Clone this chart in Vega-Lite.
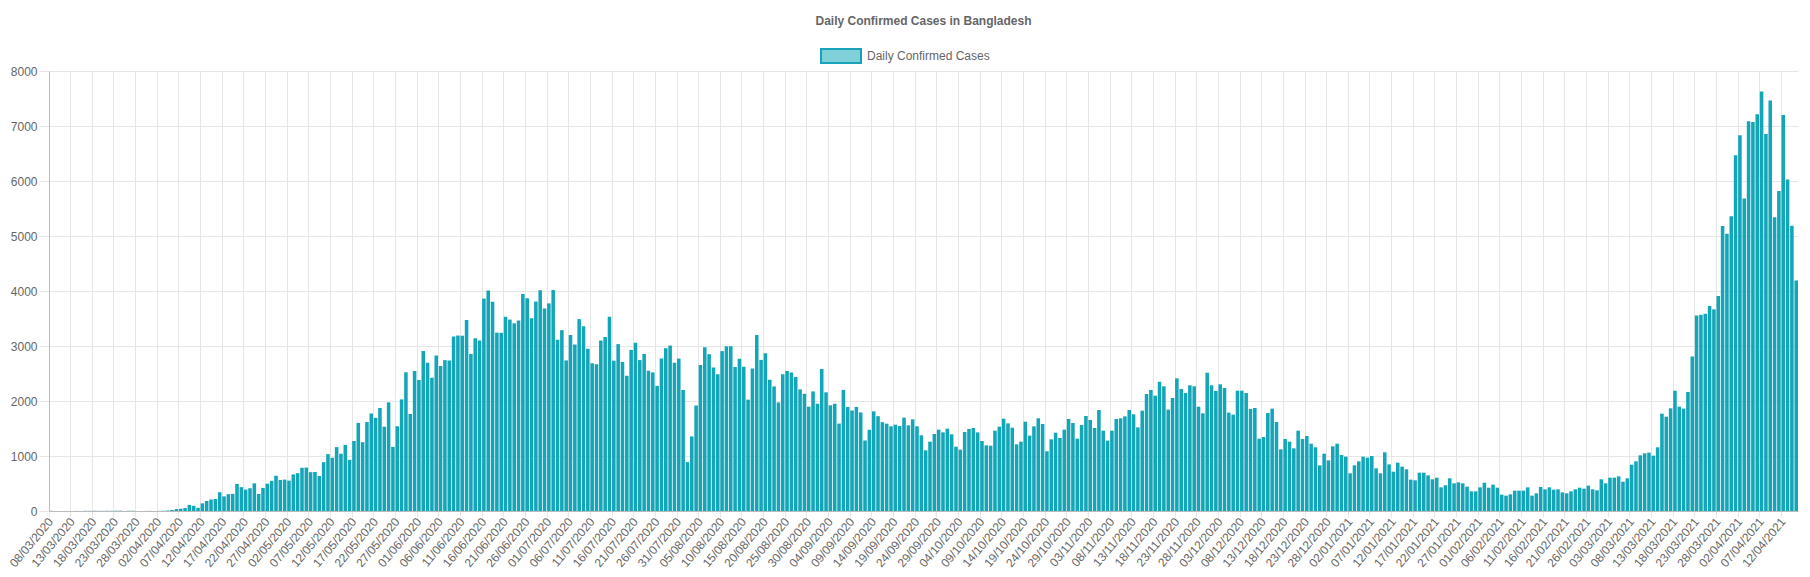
{
  "$schema": "https://vega.github.io/schema/vega-lite/v6.json",
  "width": 1749,
  "height": 440,
  "autosize": {"type": "none"},
  "padding": {"left": 49, "top": 71, "right": 12, "bottom": 66},
  "background": "white",
  "config": {"font": "Liberation Sans", "view": {"stroke": null}},
  "title": {
    "text": "Daily Confirmed Cases in Bangladesh",
    "fontSize": 12,
    "fontWeight": "bold",
    "color": "#666666",
    "font": "Liberation Sans",
    "anchor": "middle",
    "offset": 7
  },
  "data": {
    "values": [
      {"date":"08/03/2020","cases":3},{"date":"09/03/2020","cases":0},{"date":"10/03/2020","cases":0},{"date":"11/03/2020","cases":0},{"date":"12/03/2020","cases":0},{"date":"13/03/2020","cases":0},{"date":"14/03/2020","cases":2},{"date":"15/03/2020","cases":0},{"date":"16/03/2020","cases":3},{"date":"17/03/2020","cases":2},{"date":"18/03/2020","cases":4},{"date":"19/03/2020","cases":3},{"date":"20/03/2020","cases":3},{"date":"21/03/2020","cases":4},{"date":"22/03/2020","cases":3},{"date":"23/03/2020","cases":6},{"date":"24/03/2020","cases":6},{"date":"25/03/2020","cases":0},{"date":"26/03/2020","cases":5},{"date":"27/03/2020","cases":4},{"date":"28/03/2020","cases":0},{"date":"29/03/2020","cases":0},{"date":"30/03/2020","cases":1},{"date":"31/03/2020","cases":2},
      {"date":"01/04/2020","cases":2},{"date":"02/04/2020","cases":2},{"date":"03/04/2020","cases":5},{"date":"04/04/2020","cases":9},{"date":"05/04/2020","cases":18},{"date":"06/04/2020","cases":35},{"date":"07/04/2020","cases":41},{"date":"08/04/2020","cases":54},{"date":"09/04/2020","cases":112},{"date":"10/04/2020","cases":94},{"date":"11/04/2020","cases":58},{"date":"12/04/2020","cases":139},{"date":"13/04/2020","cases":182},{"date":"14/04/2020","cases":209},{"date":"15/04/2020","cases":219},{"date":"16/04/2020","cases":341},{"date":"17/04/2020","cases":266},{"date":"18/04/2020","cases":306},{"date":"19/04/2020","cases":312},{"date":"20/04/2020","cases":492},{"date":"21/04/2020","cases":434},{"date":"22/04/2020","cases":390},{"date":"23/04/2020","cases":414},{"date":"24/04/2020","cases":503},{"date":"25/04/2020","cases":309},{"date":"26/04/2020","cases":418},{"date":"27/04/2020","cases":497},{"date":"28/04/2020","cases":549},{"date":"29/04/2020","cases":641},{"date":"30/04/2020","cases":564},
      {"date":"01/05/2020","cases":571},{"date":"02/05/2020","cases":552},{"date":"03/05/2020","cases":665},{"date":"04/05/2020","cases":688},{"date":"05/05/2020","cases":786},{"date":"06/05/2020","cases":790},{"date":"07/05/2020","cases":706},{"date":"08/05/2020","cases":709},{"date":"09/05/2020","cases":636},{"date":"10/05/2020","cases":887},{"date":"11/05/2020","cases":1034},{"date":"12/05/2020","cases":969},{"date":"13/05/2020","cases":1162},{"date":"14/05/2020","cases":1041},{"date":"15/05/2020","cases":1202},{"date":"16/05/2020","cases":930},{"date":"17/05/2020","cases":1273},{"date":"18/05/2020","cases":1602},{"date":"19/05/2020","cases":1251},{"date":"20/05/2020","cases":1617},{"date":"21/05/2020","cases":1773},{"date":"22/05/2020","cases":1694},{"date":"23/05/2020","cases":1873},{"date":"24/05/2020","cases":1532},{"date":"25/05/2020","cases":1975},{"date":"26/05/2020","cases":1166},{"date":"27/05/2020","cases":1541},{"date":"28/05/2020","cases":2029},{"date":"29/05/2020","cases":2523},{"date":"30/05/2020","cases":1764},{"date":"31/05/2020","cases":2545},
      {"date":"01/06/2020","cases":2381},{"date":"02/06/2020","cases":2911},{"date":"03/06/2020","cases":2695},{"date":"04/06/2020","cases":2423},{"date":"05/06/2020","cases":2828},{"date":"06/06/2020","cases":2635},{"date":"07/06/2020","cases":2743},{"date":"08/06/2020","cases":2735},{"date":"09/06/2020","cases":3171},{"date":"10/06/2020","cases":3190},{"date":"11/06/2020","cases":3187},{"date":"12/06/2020","cases":3471},{"date":"13/06/2020","cases":2856},{"date":"14/06/2020","cases":3141},{"date":"15/06/2020","cases":3099},{"date":"16/06/2020","cases":3862},{"date":"17/06/2020","cases":4008},{"date":"18/06/2020","cases":3803},{"date":"19/06/2020","cases":3243},{"date":"20/06/2020","cases":3240},{"date":"21/06/2020","cases":3531},{"date":"22/06/2020","cases":3480},{"date":"23/06/2020","cases":3412},{"date":"24/06/2020","cases":3462},{"date":"25/06/2020","cases":3946},{"date":"26/06/2020","cases":3868},{"date":"27/06/2020","cases":3504},{"date":"28/06/2020","cases":3809},{"date":"29/06/2020","cases":4014},{"date":"30/06/2020","cases":3682},
      {"date":"01/07/2020","cases":3775},{"date":"02/07/2020","cases":4019},{"date":"03/07/2020","cases":3114},{"date":"04/07/2020","cases":3288},{"date":"05/07/2020","cases":2738},{"date":"06/07/2020","cases":3201},{"date":"07/07/2020","cases":3027},{"date":"08/07/2020","cases":3489},{"date":"09/07/2020","cases":3360},{"date":"10/07/2020","cases":2949},{"date":"11/07/2020","cases":2686},{"date":"12/07/2020","cases":2666},{"date":"13/07/2020","cases":3099},{"date":"14/07/2020","cases":3163},{"date":"15/07/2020","cases":3533},{"date":"16/07/2020","cases":2733},{"date":"17/07/2020","cases":3034},{"date":"18/07/2020","cases":2709},{"date":"19/07/2020","cases":2459},{"date":"20/07/2020","cases":2928},{"date":"21/07/2020","cases":3057},{"date":"22/07/2020","cases":2744},{"date":"23/07/2020","cases":2856},{"date":"24/07/2020","cases":2548},{"date":"25/07/2020","cases":2520},{"date":"26/07/2020","cases":2275},{"date":"27/07/2020","cases":2772},{"date":"28/07/2020","cases":2960},{"date":"29/07/2020","cases":3009},{"date":"30/07/2020","cases":2695},{"date":"31/07/2020","cases":2772},
      {"date":"01/08/2020","cases":2199},{"date":"02/08/2020","cases":889},{"date":"03/08/2020","cases":1356},{"date":"04/08/2020","cases":1918},{"date":"05/08/2020","cases":2654},{"date":"06/08/2020","cases":2977},{"date":"07/08/2020","cases":2851},{"date":"08/08/2020","cases":2611},{"date":"09/08/2020","cases":2487},{"date":"10/08/2020","cases":2907},{"date":"11/08/2020","cases":2996},{"date":"12/08/2020","cases":2995},{"date":"13/08/2020","cases":2617},{"date":"14/08/2020","cases":2766},{"date":"15/08/2020","cases":2624},{"date":"16/08/2020","cases":2024},{"date":"17/08/2020","cases":2592},{"date":"18/08/2020","cases":3200},{"date":"19/08/2020","cases":2747},{"date":"20/08/2020","cases":2868},{"date":"21/08/2020","cases":2386},{"date":"22/08/2020","cases":2265},{"date":"23/08/2020","cases":1973},{"date":"24/08/2020","cases":2485},{"date":"25/08/2020","cases":2545},{"date":"26/08/2020","cases":2519},{"date":"27/08/2020","cases":2436},{"date":"28/08/2020","cases":2211},{"date":"29/08/2020","cases":2131},{"date":"30/08/2020","cases":1897},{"date":"31/08/2020","cases":2174},
      {"date":"01/09/2020","cases":1950},{"date":"02/09/2020","cases":2582},{"date":"03/09/2020","cases":2158},{"date":"04/09/2020","cases":1921},{"date":"05/09/2020","cases":1950},{"date":"06/09/2020","cases":1590},{"date":"07/09/2020","cases":2202},{"date":"08/09/2020","cases":1892},{"date":"09/09/2020","cases":1827},{"date":"10/09/2020","cases":1892},{"date":"11/09/2020","cases":1792},{"date":"12/09/2020","cases":1282},{"date":"13/09/2020","cases":1476},{"date":"14/09/2020","cases":1812},{"date":"15/09/2020","cases":1724},{"date":"16/09/2020","cases":1615},{"date":"17/09/2020","cases":1588},{"date":"18/09/2020","cases":1540},{"date":"19/09/2020","cases":1570},{"date":"20/09/2020","cases":1544},{"date":"21/09/2020","cases":1697},{"date":"22/09/2020","cases":1557},{"date":"23/09/2020","cases":1666},{"date":"24/09/2020","cases":1540},{"date":"25/09/2020","cases":1376},{"date":"26/09/2020","cases":1103},{"date":"27/09/2020","cases":1261},{"date":"28/09/2020","cases":1400},{"date":"29/09/2020","cases":1479},{"date":"30/09/2020","cases":1430},
      {"date":"01/10/2020","cases":1497},{"date":"02/10/2020","cases":1394},{"date":"03/10/2020","cases":1170},{"date":"04/10/2020","cases":1115},{"date":"05/10/2020","cases":1436},{"date":"06/10/2020","cases":1491},{"date":"07/10/2020","cases":1509},{"date":"08/10/2020","cases":1430},{"date":"09/10/2020","cases":1273},{"date":"10/10/2020","cases":1194},{"date":"11/10/2020","cases":1188},{"date":"12/10/2020","cases":1461},{"date":"13/10/2020","cases":1533},{"date":"14/10/2020","cases":1679},{"date":"15/10/2020","cases":1594},{"date":"16/10/2020","cases":1515},{"date":"17/10/2020","cases":1212},{"date":"18/10/2020","cases":1261},{"date":"19/10/2020","cases":1624},{"date":"20/10/2020","cases":1370},{"date":"21/10/2020","cases":1539},{"date":"22/10/2020","cases":1685},{"date":"23/10/2020","cases":1582},{"date":"24/10/2020","cases":1085},{"date":"25/10/2020","cases":1303},{"date":"26/10/2020","cases":1424},{"date":"27/10/2020","cases":1327},{"date":"28/10/2020","cases":1479},{"date":"29/10/2020","cases":1673},{"date":"30/10/2020","cases":1600},{"date":"31/10/2020","cases":1315},
      {"date":"01/11/2020","cases":1564},{"date":"02/11/2020","cases":1727},{"date":"03/11/2020","cases":1655},{"date":"04/11/2020","cases":1509},{"date":"05/11/2020","cases":1836},{"date":"06/11/2020","cases":1461},{"date":"07/11/2020","cases":1279},{"date":"08/11/2020","cases":1461},{"date":"09/11/2020","cases":1673},{"date":"10/11/2020","cases":1685},{"date":"11/11/2020","cases":1721},{"date":"12/11/2020","cases":1836},{"date":"13/11/2020","cases":1758},{"date":"14/11/2020","cases":1521},{"date":"15/11/2020","cases":1824},{"date":"16/11/2020","cases":2127},{"date":"17/11/2020","cases":2200},{"date":"18/11/2020","cases":2097},{"date":"19/11/2020","cases":2352},{"date":"20/11/2020","cases":2267},{"date":"21/11/2020","cases":1842},{"date":"22/11/2020","cases":2055},{"date":"23/11/2020","cases":2412},{"date":"24/11/2020","cases":2218},{"date":"25/11/2020","cases":2145},{"date":"26/11/2020","cases":2285},{"date":"27/11/2020","cases":2267},{"date":"28/11/2020","cases":1897},{"date":"29/11/2020","cases":1776},{"date":"30/11/2020","cases":2515},
      {"date":"01/12/2020","cases":2285},{"date":"02/12/2020","cases":2182},{"date":"03/12/2020","cases":2303},{"date":"04/12/2020","cases":2236},{"date":"05/12/2020","cases":1788},{"date":"06/12/2020","cases":1752},{"date":"07/12/2020","cases":2188},{"date":"08/12/2020","cases":2188},{"date":"09/12/2020","cases":2145},{"date":"10/12/2020","cases":1855},{"date":"11/12/2020","cases":1873},{"date":"12/12/2020","cases":1315},{"date":"13/12/2020","cases":1345},{"date":"14/12/2020","cases":1782},{"date":"15/12/2020","cases":1861},{"date":"16/12/2020","cases":1618},{"date":"17/12/2020","cases":1121},{"date":"18/12/2020","cases":1309},{"date":"19/12/2020","cases":1261},{"date":"20/12/2020","cases":1139},{"date":"21/12/2020","cases":1461},{"date":"22/12/2020","cases":1309},{"date":"23/12/2020","cases":1364},{"date":"24/12/2020","cases":1224},{"date":"25/12/2020","cases":1158},{"date":"26/12/2020","cases":830},{"date":"27/12/2020","cases":1042},{"date":"28/12/2020","cases":921},{"date":"29/12/2020","cases":1176},{"date":"30/12/2020","cases":1224},{"date":"31/12/2020","cases":1018},
      {"date":"01/01/2021","cases":988},{"date":"02/01/2021","cases":685},{"date":"03/01/2021","cases":830},{"date":"04/01/2021","cases":903},{"date":"05/01/2021","cases":988},{"date":"06/01/2021","cases":970},{"date":"07/01/2021","cases":1000},{"date":"08/01/2021","cases":776},{"date":"09/01/2021","cases":685},{"date":"10/01/2021","cases":1067},{"date":"11/01/2021","cases":848},{"date":"12/01/2021","cases":715},{"date":"13/01/2021","cases":879},{"date":"14/01/2021","cases":806},{"date":"15/01/2021","cases":758},{"date":"16/01/2021","cases":570},{"date":"17/01/2021","cases":558},{"date":"18/01/2021","cases":697},{"date":"19/01/2021","cases":697},{"date":"20/01/2021","cases":648},{"date":"21/01/2021","cases":576},{"date":"22/01/2021","cases":606},{"date":"23/01/2021","cases":430},{"date":"24/01/2021","cases":467},{"date":"25/01/2021","cases":594},{"date":"26/01/2021","cases":503},{"date":"27/01/2021","cases":521},{"date":"28/01/2021","cases":503},{"date":"29/01/2021","cases":442},{"date":"30/01/2021","cases":358},{"date":"31/01/2021","cases":358},
      {"date":"01/02/2021","cases":430},{"date":"02/02/2021","cases":515},{"date":"03/02/2021","cases":424},{"date":"04/02/2021","cases":479},{"date":"05/02/2021","cases":424},{"date":"06/02/2021","cases":297},{"date":"07/02/2021","cases":279},{"date":"08/02/2021","cases":303},{"date":"09/02/2021","cases":370},{"date":"10/02/2021","cases":370},{"date":"11/02/2021","cases":370},{"date":"12/02/2021","cases":430},{"date":"13/02/2021","cases":279},{"date":"14/02/2021","cases":321},{"date":"15/02/2021","cases":436},{"date":"16/02/2021","cases":394},{"date":"17/02/2021","cases":430},{"date":"18/02/2021","cases":388},{"date":"19/02/2021","cases":394},{"date":"20/02/2021","cases":339},{"date":"21/02/2021","cases":321},{"date":"22/02/2021","cases":358},{"date":"23/02/2021","cases":394},{"date":"24/02/2021","cases":424},{"date":"25/02/2021","cases":406},{"date":"26/02/2021","cases":461},{"date":"27/02/2021","cases":394},{"date":"28/02/2021","cases":376},
      {"date":"01/03/2021","cases":576},{"date":"02/03/2021","cases":503},{"date":"03/03/2021","cases":606},{"date":"04/03/2021","cases":606},{"date":"05/03/2021","cases":630},{"date":"06/03/2021","cases":533},{"date":"07/03/2021","cases":594},{"date":"08/03/2021","cases":842},{"date":"09/03/2021","cases":903},{"date":"10/03/2021","cases":1012},{"date":"11/03/2021","cases":1048},{"date":"12/03/2021","cases":1061},{"date":"13/03/2021","cases":1006},{"date":"14/03/2021","cases":1158},{"date":"15/03/2021","cases":1770},{"date":"16/03/2021","cases":1715},{"date":"17/03/2021","cases":1867},{"date":"18/03/2021","cases":2187},{"date":"19/03/2021","cases":1897},{"date":"20/03/2021","cases":1861},{"date":"21/03/2021","cases":2164},{"date":"22/03/2021","cases":2809},{"date":"23/03/2021","cases":3554},{"date":"24/03/2021","cases":3567},{"date":"25/03/2021","cases":3587},{"date":"26/03/2021","cases":3727},{"date":"27/03/2021","cases":3667},{"date":"28/03/2021","cases":3908},{"date":"29/03/2021","cases":5181},{"date":"30/03/2021","cases":5042},{"date":"31/03/2021","cases":5358},
      {"date":"01/04/2021","cases":6469},{"date":"02/04/2021","cases":6830},{"date":"03/04/2021","cases":5683},{"date":"04/04/2021","cases":7087},{"date":"05/04/2021","cases":7075},{"date":"06/04/2021","cases":7213},{"date":"07/04/2021","cases":7626},{"date":"08/04/2021","cases":6854},{"date":"09/04/2021","cases":7462},{"date":"10/04/2021","cases":5343},{"date":"11/04/2021","cases":5819},{"date":"12/04/2021","cases":7201},{"date":"13/04/2021","cases":6028},{"date":"14/04/2021","cases":5185},{"date":"15/04/2021","cases":4192}
    ]
  },
  "layer": [
    {
      "mark": {"type": "bar", "color": "#13a6b8"},
      "encoding": {
        "x": {
          "field": "date",
          "type": "ordinal",
          "sort": null,
          "scale": {"paddingInner": 0.18, "paddingOuter": 0},
          "axis": {
            "title": null,
            "values": ["08/03/2020","13/03/2020","18/03/2020","23/03/2020","28/03/2020","02/04/2020","07/04/2020","12/04/2020","17/04/2020","22/04/2020","27/04/2020","02/05/2020","07/05/2020","12/05/2020","17/05/2020","22/05/2020","27/05/2020","01/06/2020","06/06/2020","11/06/2020","16/06/2020","21/06/2020","26/06/2020","01/07/2020","06/07/2020","11/07/2020","16/07/2020","21/07/2020","26/07/2020","31/07/2020","05/08/2020","10/08/2020","15/08/2020","20/08/2020","25/08/2020","30/08/2020","04/09/2020","09/09/2020","14/09/2020","19/09/2020","24/09/2020","29/09/2020","04/10/2020","09/10/2020","14/10/2020","19/10/2020","24/10/2020","29/10/2020","03/11/2020","08/11/2020","13/11/2020","18/11/2020","23/11/2020","28/11/2020","03/12/2020","08/12/2020","13/12/2020","18/12/2020","23/12/2020","28/12/2020","02/01/2021","07/01/2021","12/01/2021","17/01/2021","22/01/2021","27/01/2021","01/02/2021","06/02/2021","11/02/2021","16/02/2021","21/02/2021","26/02/2021","03/03/2021","08/03/2021","13/03/2021","18/03/2021","23/03/2021","28/03/2021","02/04/2021","07/04/2021","12/04/2021"],
            "bandPosition": 0,
            "labelAngle": -50,
            "labelFontSize": 12,
            "labelColor": "#666666",
            "labelPadding": 2,
            "grid": true,
            "gridColor": "#e6e6e6",
            "ticks": true,
            "tickColor": "#e6e6e6",
            "tickSize": 6,
            "domainColor": "#bbbbbb"
          }
        },
        "y": {
          "field": "cases",
          "type": "quantitative",
          "scale": {"domain": [0, 8000], "nice": false},
          "axis": {
            "title": null,
            "values": [0, 1000, 2000, 3000, 4000, 5000, 6000, 7000, 8000],
            "format": "d",
            "labelFontSize": 12,
            "labelColor": "#666666",
            "labelPadding": 2,
            "gridColor": "#e6e6e6",
            "tickColor": "#e6e6e6",
            "tickSize": 10,
            "domainColor": "#bbbbbb"
          }
        }
      }
    },
    {
      "data": {"values": []},
      "mark": {"type": "bar", "stroke": "#17a2b8", "strokeWidth": 2},
      "encoding": {
        "fill": {
          "datum": "Daily Confirmed Cases",
          "scale": {"range": ["#80d0da"]},
          "legend": {
            "title": null,
            "orient": "none",
            "legendX": 771,
            "legendY": -36,
            "direction": "horizontal",
            "padding": 0,
            "symbolType": "M-1,-0.35L1,-0.35L1,0.35L-1,0.35Z",
            "symbolSize": 1600,
            "symbolStrokeColor": "#17a2b8",
            "symbolStrokeWidth": 2,
            "symbolOpacity": 1,
            "labelFontSize": 12,
            "labelColor": "#666666",
            "labelOffset": 5
          }
        }
      }
    }
  ]
}
